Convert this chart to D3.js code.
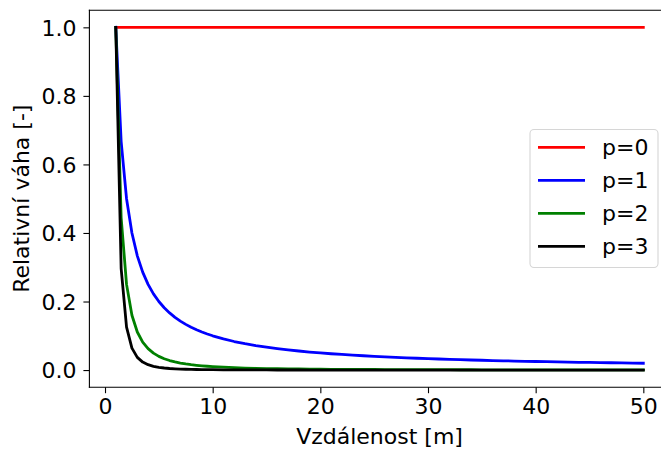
<!DOCTYPE html>
<html>
<head>
<meta charset="utf-8">
<script src="https://cdn.jsdelivr.net/npm/d3@7"></script>
<style>
  html, body { margin: 0; padding: 0; background: #fff; overflow: hidden; }
  svg { display: block; overflow: hidden; }
  svg text { font-family: "DejaVu Sans", sans-serif; fill: #000; }
</style>
</head>
<body>
<svg id="chart" width="661" height="450"></svg>
<script>
// distances [m]
const distances = [1, 1.5, 2, 2.5, 3, 3.5, 4, 4.5, 5, 5.5, 6, 6.5, 7, 7.5, 8, 8.5, 9, 9.5, 10,
  11, 12, 13, 14, 15, 16, 17, 18, 19, 20, 21, 22, 23, 24, 25, 26, 27, 28, 29, 30,
  31, 32, 33, 34, 35, 36, 37, 38, 39, 40, 41, 42, 43, 44, 45, 46, 47, 48, 49, 50];

const seriesNames = ["p=0", "p=1", "p=2", "p=3"];
const seriesColors = ["#ff0000", "#0000ff", "#008000", "#000000"];

const weightsP0 = [1, 1, 1, 1, 1, 1, 1, 1, 1, 1, 1, 1, 1, 1, 1, 1, 1, 1, 1,
  1, 1, 1, 1, 1, 1, 1, 1, 1, 1, 1, 1, 1, 1, 1, 1, 1, 1, 1, 1,
  1, 1, 1, 1, 1, 1, 1, 1, 1, 1, 1, 1, 1, 1, 1, 1, 1, 1, 1, 1];

const weightsP1 = [1, 0.6667, 0.5, 0.4, 0.3333, 0.2857, 0.25, 0.2222, 0.2, 0.1818, 0.1667, 0.1538, 0.1429, 0.1333, 0.125, 0.1176, 0.1111, 0.1053, 0.1,
  0.0909, 0.0833, 0.0769, 0.0714, 0.0667, 0.0625, 0.0588, 0.0556, 0.0526, 0.05, 0.0476, 0.0455, 0.0435, 0.0417, 0.04, 0.0385, 0.037, 0.0357, 0.0345, 0.0333,
  0.0323, 0.0313, 0.0303, 0.0294, 0.0286, 0.0278, 0.027, 0.0263, 0.0256, 0.025, 0.0244, 0.0238, 0.0233, 0.0227, 0.0222, 0.0217, 0.0213, 0.0208, 0.0204, 0.02];

const weightsP2 = [1, 0.4444, 0.25, 0.16, 0.1111, 0.0816, 0.0625, 0.0494, 0.04, 0.0331, 0.0278, 0.0237, 0.0204, 0.0178, 0.0156, 0.0138, 0.0123, 0.0111, 0.01,
  0.0083, 0.0069, 0.0059, 0.0051, 0.0044, 0.0039, 0.0035, 0.0031, 0.0028, 0.0025, 0.0023, 0.0021, 0.0019, 0.0017, 0.0016, 0.0015, 0.0014, 0.0013, 0.0012, 0.0011,
  0.001, 0.001, 0.0009, 0.0009, 0.0008, 0.0008, 0.0007, 0.0007, 0.0007, 0.0006, 0.0006, 0.0006, 0.0005, 0.0005, 0.0005, 0.0005, 0.0005, 0.0004, 0.0004, 0.0004];

const weightsP3 = [1, 0.2963, 0.125, 0.064, 0.037, 0.0233, 0.0156, 0.011, 0.008, 0.006, 0.0046, 0.0036, 0.0029, 0.0024, 0.002, 0.0016, 0.0014, 0.0012, 0.001,
  0.0008, 0.0006, 0.0005, 0.0004, 0.0003, 0.0002, 0.0002, 0.0002, 0.0001, 0.0001, 0.0001, 0.0001, 0.0001, 0.0001, 0.0001, 0.0001, 0.0001, 0, 0, 0,
  0, 0, 0, 0, 0, 0, 0, 0, 0, 0, 0, 0, 0, 0, 0, 0, 0, 0, 0, 0];

const xTicks = [0, 10, 20, 30, 40, 50];
const yTicks = [0.0, 0.2, 0.4, 0.6, 0.8, 1.0];
const xLabel = "Vzdálenost [m]";
const yLabel = "Relativní váha [-]";

const allSeries = [weightsP0, weightsP1, weightsP2, weightsP3];

const svg = d3.select("#chart");
const plot = { left: 89.4, right: 669.7, top: 10.2, bottom: 387.2 };

const x = d3.scaleLinear().domain([-1.45, 52.45]).range([plot.left, plot.right]);
const y = d3.scaleLinear().domain([-0.05, 1.05]).range([plot.bottom, plot.top]);

// series lines
const line = d3.line().x(d => x(d[0])).y(d => y(d[1]));
const gLines = svg.append("g");
allSeries.forEach((vals, i) => {
  gLines.append("path")
    .datum(distances.map((d, j) => [d, vals[j]]))
    .attr("fill", "none")
    .attr("stroke", seriesColors[i])
    .attr("stroke-width", 2.8)
    .attr("stroke-linejoin", "round")
    .attr("stroke-linecap", "square")
    .attr("d", line);
});

// axes
const fontSize = 22;
const xAxis = d3.axisBottom(x).tickValues(xTicks).tickFormat(d3.format("d")).tickSizeInner(6).tickSizeOuter(0).tickPadding(5);
const yAxis = d3.axisLeft(y).tickValues(yTicks).tickFormat(d3.format(".1f")).tickSizeInner(6).tickSizeOuter(0).tickPadding(7);

const gx = svg.append("g").attr("transform", `translate(0,${plot.bottom})`).call(xAxis);
const gy = svg.append("g").attr("transform", `translate(${plot.left},0)`).call(yAxis);
[gx, gy].forEach(g => {
  g.select(".domain").remove();
  g.selectAll(".tick line").attr("stroke", "#000").attr("stroke-width", 1.1);
  g.selectAll(".tick text").attr("font-size", fontSize).attr("font-family", "DejaVu Sans");
});
gy.selectAll(".tick text").attr("dy", "0.36em");

// spines: top, bottom, left (the right one falls outside the cropped picture)
const spines = [
  [plot.left, plot.top, plot.right, plot.top],
  [plot.left, plot.bottom, plot.right, plot.bottom],
  [plot.left, plot.top, plot.left, plot.bottom]
];
svg.append("g").selectAll("line").data(spines).join("line")
  .attr("x1", d => d[0]).attr("y1", d => d[1])
  .attr("x2", d => d[2]).attr("y2", d => d[3])
  .attr("stroke", "#000").attr("stroke-width", 1.1).attr("stroke-linecap", "square");

// axis labels
svg.append("text")
  .attr("x", (plot.left + plot.right) / 2).attr("y", 444)
  .attr("text-anchor", "middle").attr("font-size", fontSize)
  .text(xLabel);
svg.append("text")
  .attr("transform", `translate(29,${(plot.top + plot.bottom) / 2}) rotate(-90)`)
  .attr("text-anchor", "middle").attr("font-size", fontSize)
  .text(yLabel);

// legend
const lg = svg.append("g");
lg.append("rect")
  .attr("x", 530).attr("y", 129.5).attr("width", 128).attr("height", 138)
  .attr("rx", 4).attr("ry", 4)
  .attr("fill", "#fff").attr("fill-opacity", 0.8)
  .attr("stroke", "#d6d6d6").attr("stroke-width", 1.1);
seriesNames.forEach((name, i) => {
  const yy = 147.3 + i * 33;
  lg.append("line")
    .attr("x1", 538).attr("x2", 585).attr("y1", yy).attr("y2", yy)
    .attr("stroke", seriesColors[i]).attr("stroke-width", 2.8);
  lg.append("text")
    .attr("x", 602).attr("y", yy).attr("dy", "0.36em")
    .attr("font-size", fontSize)
    .text(name);
});
</script>
</body>
</html>
